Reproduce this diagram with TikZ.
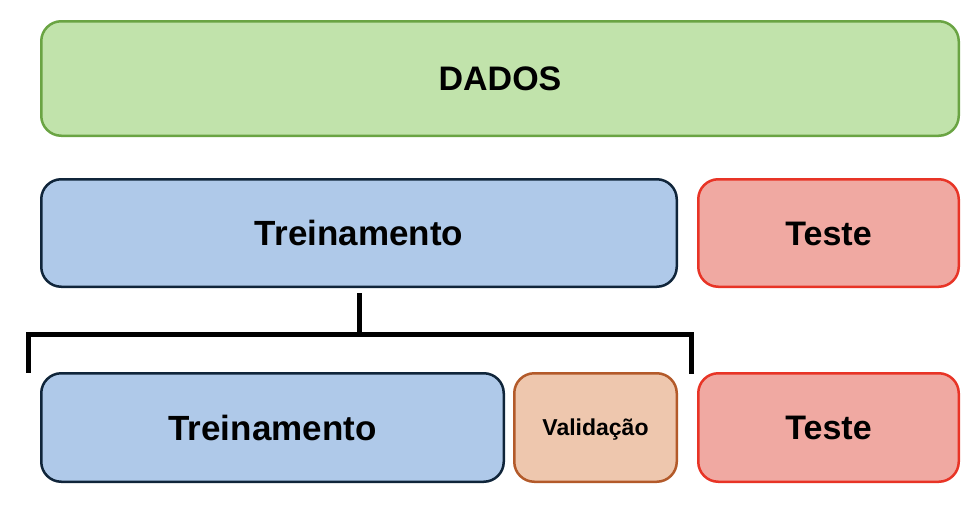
\documentclass[tikz,border=0pt]{standalone}
\usepackage{fontspec}
\setmainfont{Liberation Sans}
\definecolor{gfill}{RGB}{193,227,171}
\definecolor{gline}{RGB}{106,164,67}
\definecolor{bfill}{RGB}{175,201,233}
\definecolor{bline}{RGB}{16,37,58}
\definecolor{rfill}{RGB}{240,169,162}
\definecolor{rline}{RGB}{232,52,38}
\definecolor{ofill}{RGB}{238,199,174}
\definecolor{oline}{RGB}{179,90,42}
\tikzset{
  box/.style={draw, line width=2.5pt, rounded corners=20pt, inner sep=0pt, anchor=center},
  bigtxt/.style={font=\bfseries\fontsize{35}{40}\selectfont, text height=25pt, text depth=0pt},
  midtxt/.style={font=\bfseries\fontsize{34}{40}\selectfont, text height=24.3pt, text depth=0pt},
  smalltxt/.style={font=\bfseries\fontsize{23}{27}\selectfont, text height=16.5pt, text depth=0pt},
  greenbox/.style={box, fill=gfill, draw=gline},
  bluebox/.style={box, fill=bfill, draw=bline},
  redbox/.style={box, fill=rfill, draw=rline},
  orangebox/.style={box, fill=ofill, draw=oline},
  bracket/.style={line width=5pt, line join=miter, black}
}
\begin{document}
\begin{tikzpicture}[x=1pt, y=-1pt]
\useasboundingbox (0,0) rectangle (980,506);
\node[greenbox, midtxt, minimum width=917.5pt, minimum height=114.5pt] (dados) at (500,78.5) {DADOS};
\node[bluebox, bigtxt, minimum width=635.5pt, minimum height=107.5pt] (trainA) at (359,233) {Treinamento};
\node[redbox, midtxt, minimum width=260.5pt, minimum height=107.5pt] (testA) at (828.5,233) {Teste};
\node[bluebox, bigtxt, minimum width=462.5pt, minimum height=108.5pt] (trainB) at (272.5,427.5) {Treinamento};
\node[orangebox, smalltxt, minimum width=162.5pt, minimum height=108.5pt] (valB) at (595.5,427.5) {Validação};
\node[redbox, midtxt, minimum width=260.5pt, minimum height=108.5pt] (testB) at (828.5,427.5) {Teste};
\coordinate (bl) at (28.5,372.5);
\coordinate (tl) at (28.5,334.5);
\coordinate (tr) at (691,334.5);
\coordinate (br) at (691,373.5);
\coordinate (mid) at (359,334.5);
\draw[bracket] (bl) -- (tl) -- (tr) -- (br);
\draw[bracket] ([yshift=-5pt]trainA.south) -- (mid);
\end{tikzpicture}
\end{document}
